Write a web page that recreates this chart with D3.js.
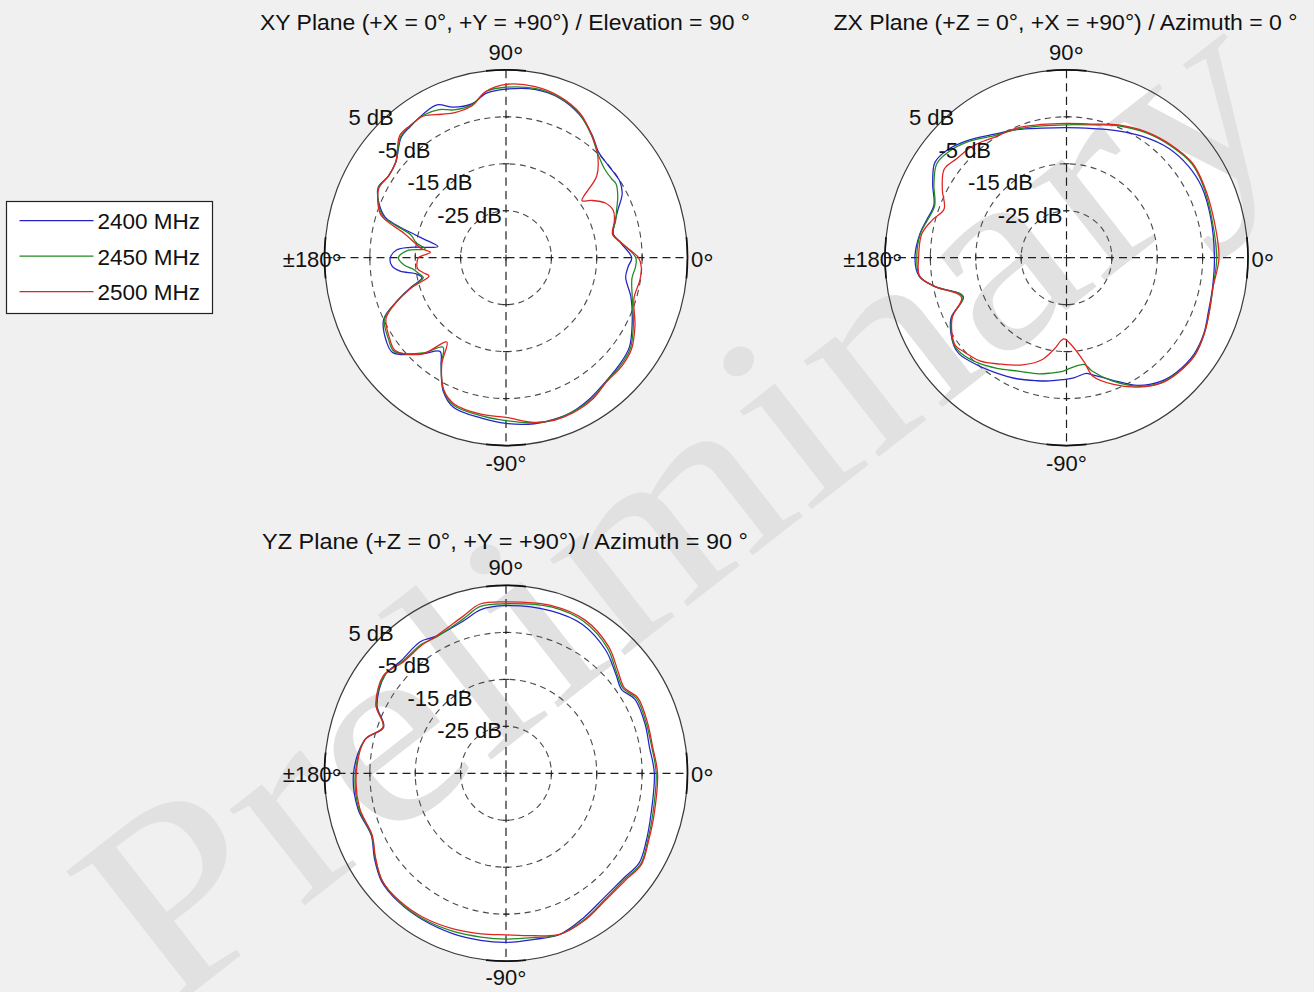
<!DOCTYPE html>
<html><head><meta charset="utf-8">
<script src="https://cdn.jsdelivr.net/npm/d3@7"></script>
<style>
html,body{margin:0;padding:0;background:#f0f0f0;}
svg{display:block;}
</style></head>
<body>
<svg id="chart" width="1314" height="992"></svg>
<script>
// ---------------- data ----------------
const seriesNames = ["2400 MHz", "2450 MHz", "2500 MHz"];
const seriesColors = ["#2323c8", "#1f8a1f", "#e02222"];
const ringValues = [-25, -15, -5, 5];
const ringLabels = ["-25 dB", "-15 dB", "-5 dB", "5 dB"];
const titles = [
  "XY Plane (+X = 0°, +Y = +90°) / Elevation = 90 °",
  "ZX Plane (+Z = 0°, +X = +90°) / Azimuth = 0 °",
  "YZ Plane (+Z = 0°, +Y = +90°) / Azimuth = 90 °"
];
const angleLabelTop = "90", angleLabelBottom = "-90", angleLabelRight = "0", angleLabelLeft = "±180";

const xyAngles = [0, 7, 12, 18, 23, 28, 33, 36, 41, 48, 54, 62, 71, 80, 90, 97, 103, 110, 115, 121, 127, 132, 140, 146, 152, 157, 162, 167, 171, 174, 176, 180, 184, 187, 190, 193, 197, 201, 206, 214, 219, 228, 234, 238, 244, 250, 261, 270, 280, 287, 294, 302, 310, 318, 325, 333, 343, 351, 356];
const xy2400 = [-7.3, -9.5, -10.8, -9.7, -8.1, -6.0, -5.1, -5.1, -5.1, -4.6, -2.7, -0.5, 1.0, 1.4, 0.9, 0.3, -1.4, -0.9, 0.9, 0.6, 0.0, -0.5, -3.3, -3.8, -3.1, -4.5, -7.0, -15.5, -19.8, -13.8, -10.9, -9.5, -9.8, -11.5, -15.0, -16.0, -12.9, -9.3, -5.0, -3.2, -2.9, -7.5, -10.3, -8.0, -3.4, -1.1, -0.4, 0.3, 0.9, 1.0, 0.9, 0.2, -0.7, -1.2, -1.8, -3.8, -6.2, -8.3, -8.0];
const xy2450 = [-6.4, -9.3, -10.9, -9.6, -8.5, -7.1, -6.1, -6.3, -6.2, -4.9, -2.9, -0.4, 1.1, 1.6, 1.3, 0.7, -1.6, -1.5, -0.2, 0.4, 0.1, -0.3, -3.3, -3.8, -3.2, -4.4, -6.5, -13.5, -15.0, -17.1, -13.2, -11.3, -12.5, -14.5, -15.5, -16.3, -13.1, -9.3, -5.2, -3.8, -3.3, -7.7, -11.4, -8.1, -3.6, -1.5, -0.9, -0.3, 0.7, 1.1, 1.0, 0.5, -0.6, -0.9, -1.5, -3.5, -5.9, -6.9, -6.4];
const xy2500 = [-5.8, -9.4, -11.0, -9.9, -9.3, -10.2, -12.6, -14.3, -8.5, -4.9, -2.8, -0.2, 1.3, 2.0, 1.9, 0.7, -1.8, -2.1, -1.3, 0.2, 0.2, 0.0, -3.3, -3.8, -3.3, -4.3, -6.1, -12.0, -14.6, -16.2, -18.3, -15.7, -15.3, -15.4, -16.5, -17.6, -13.3, -9.4, -5.6, -4.1, -3.6, -7.4, -12.8, -8.3, -3.7, -1.8, -1.2, -1.0, 0.6, 1.2, 1.2, 0.7, -0.5, -0.6, -1.2, -3.1, -5.5, -5.1, -5.1];

const zxAngles = [0, 15, 27, 36, 46, 57, 68, 78, 90, 101, 112, 121, 131, 139, 145, 152, 159, 165, 171, 180, 187, 192, 200, 207, 217, 221, 229, 237, 247, 256, 262, 268, 274, 280, 283, 291, 300, 308, 315, 324, 332, 340, 349];
const zx2400 = [-2.4, -2.1, -1.6, -1.8, -2.6, -4.2, -5.8, -6.9, -7.3, -6.9, -5.6, -4.3, -1.9, -0.1, 0.4, -1.6, -3.7, -3.2, -2.3, -1.6, -2.3, -5.4, -10.8, -6.4, -3.9, -3.7, -4.8, -5.9, -7.0, -8.0, -8.5, -9.0, -9.4, -10.0, -9.4, -7.1, -3.6, -1.5, -0.6, -0.2, -0.7, -1.7, -2.2];
const zx2450 = [-1.9, -1.9, -1.2, -0.9, -1.9, -3.2, -4.7, -6.1, -6.7, -6.4, -5.5, -4.6, -2.2, -0.6, -0.1, -1.9, -3.9, -3.4, -2.4, -2.0, -2.4, -5.4, -10.7, -6.6, -4.0, -4.1, -5.3, -6.9, -8.7, -9.5, -10.2, -10.8, -11.7, -11.9, -10.3, -6.9, -3.4, -1.2, -0.4, 0.0, -0.6, -1.5, -2.1];
const zx2500 = [-1.4, -1.5, -1.0, -0.7, -1.7, -3.0, -4.5, -5.9, -6.4, -6.1, -5.3, -4.9, -3.5, -2.9, -2.1, -4.0, -6.1, -4.3, -2.7, -2.4, -2.4, -5.4, -10.4, -6.7, -4.2, -4.7, -5.9, -8.0, -10.2, -12.6, -15.3, -17.7, -16.1, -12.4, -9.1, -6.1, -3.2, -1.1, -0.3, 0.1, -0.6, -1.5, -2.1];

const yzAngles = [0, 10, 19, 29, 35, 41, 50, 62, 74, 90, 99, 106, 118, 124, 134, 142, 153, 160, 167, 180, 193, 204, 212, 220, 229, 239, 251, 261, 270, 280, 289, 299, 309, 319, 327, 335, 345];
const yz2400 = [-2.3, -2.9, -2.6, -2.5, -3.9, -2.9, -0.8, 0.9, 1.0, 0.7, 0.3, -1.2, -2.0, -1.2, -1.7, -1.1, -3.1, -6.3, -3.1, -1.4, -1.5, -2.5, -0.8, 0.8, 1.2, 1.2, 1.1, 1.0, 1.0, 0.9, 1.3, 0.2, -0.8, -0.8, 0.0, -0.9, -1.9];
const yz2450 = [-1.9, -2.4, -2.3, -2.1, -3.5, -2.6, -0.2, 1.6, 1.8, 1.1, 1.0, -0.8, -2.2, -1.8, -2.0, -1.1, -2.9, -6.2, -3.1, -1.8, -1.7, -2.6, -1.0, 0.6, 1.1, 1.0, 0.6, 0.3, 0.3, 0.5, 1.3, 0.6, -0.4, -0.5, 0.4, -0.6, -1.5];
const yz2500 = [-1.6, -2.2, -2.0, -1.8, -3.2, -2.2, 0.2, 2.0, 2.1, 1.5, 1.5, -0.3, -2.0, -2.0, -2.2, -0.9, -2.8, -6.2, -3.1, -2.0, -1.9, -2.7, -1.1, 0.6, 0.9, 0.7, 0.1, -0.4, -0.6, 0.1, 1.3, 0.8, -0.2, -0.2, 0.6, -0.4, -1.2];

const watermarkText = "Preliminary";

// ---------------- drawing ----------------
const W = 1314, H = 992;
const svg = d3.select("#chart");
const FONT = "'Liberation Sans', Arial, Helvetica, sans-serif";
svg.append("rect").attr("width", W).attr("height", H).attr("fill", "#f0f0f0");

const R = 181.5, K = 1.035;
const rScale = d3.scaleLinear().domain([-35, 5]).range([0, R]);

const panels = [
  {cx: 506, cy: 257.7, title: titles[0], titleY: 29.5, titleW: 490, angles: xyAngles, data: [xy2400, xy2450, xy2500], bottomY: 213},
  {cx: 1066.5, cy: 257.7, title: titles[1], titleY: 29.5, titleW: 464, angles: zxAngles, data: [zx2400, zx2450, zx2500], bottomY: 213},
  {cx: 506, cy: 773.3, title: titles[2], titleY: 548.5, titleW: 486, angles: yzAngles, data: [yz2400, yz2450, yz2500], bottomY: 212.2}
];

// layer 1: white plot discs
panels.forEach(p => {
  svg.append("ellipse").attr("cx", p.cx).attr("cy", p.cy)
    .attr("rx", R).attr("ry", R * K).attr("fill", "#ffffff");
});

// layer 2: watermark (underneath grid and curves)
const WF = 265;
svg.append("text")
  .attr("transform", "translate(684,508) rotate(-38) scale(1.15,1)")
  .attr("text-anchor", "middle")
  .attr("y", WF * 0.3)
  .attr("font-family", "'Liberation Serif', 'Times New Roman', serif")
  .attr("font-size", WF)
  .attr("fill", "#e1e1e1")
  .text(watermarkText);

// layer 3: grids, curves, labels
const radial = d3.lineRadial()
  .angle(d => Math.PI / 2 - d[0] * Math.PI / 180)
  .radius(d => rScale(d[1]))
  .curve(d3.curveCatmullRomClosed.alpha(0.5));

const arcGen = d3.arc().innerRadius(R).outerRadius(R);

panels.forEach(p => {
  const g = svg.append("g").attr("transform", `translate(${p.cx},${p.cy})`);
  const pg = g.append("g").attr("transform", `scale(1,${K})`);

  // dashed rings
  ringValues.slice(0, 3).forEach(v => {
    pg.append("circle").attr("r", rScale(v)).attr("fill", "none")
      .attr("stroke", "#4a4a4a").attr("stroke-width", 1.1)
      .attr("stroke-dasharray", "6,4.5");
  });
  // dashed axes
  pg.append("line").attr("x1", -R).attr("x2", R).attr("y1", 0).attr("y2", 0)
    .attr("stroke", "#1e1e1e").attr("stroke-width", 1.2).attr("stroke-dasharray", "8,5");
  pg.append("line").attr("x1", 0).attr("x2", 0).attr("y1", -R).attr("y2", R)
    .attr("stroke", "#1e1e1e").attr("stroke-width", 1.2).attr("stroke-dasharray", "8,5");
  // small ticks at ring crossings
  ringValues.slice(0, 3).forEach(v => {
    const rr = rScale(v);
    [-1, 1].forEach(s => {
      pg.append("line").attr("x1", s * rr).attr("x2", s * rr).attr("y1", -3).attr("y2", 3)
        .attr("stroke", "#222").attr("stroke-width", 1);
      pg.append("line").attr("y1", s * rr).attr("y2", s * rr).attr("x1", -3).attr("x2", 3)
        .attr("stroke", "#222").attr("stroke-width", 1);
    });
  });
  pg.append("line").attr("x1", -3).attr("x2", 3).attr("y1", 0).attr("y2", 0).attr("stroke", "#222");
  pg.append("line").attr("y1", -3).attr("y2", 3).attr("x1", 0).attr("x2", 0).attr("stroke", "#222");

  // outer circle
  pg.append("circle").attr("r", R).attr("fill", "none")
    .attr("stroke", "#3a3a3a").attr("stroke-width", 1.2);
  // darker short arcs where the axes meet the outer circle
  [0, 90, 180, 270].forEach(a => {
    const c = a * Math.PI / 180;
    pg.append("path")
      .attr("d", arcGen({startAngle: c - 0.11, endAngle: c + 0.11}))
      .attr("fill", "none").attr("stroke", "#111").attr("stroke-width", 1.7);
  });

  // curves
  p.data.forEach((vals, i) => {
    const pts = p.angles.map((a, j) => [a, vals[j]]);
    pg.append("path").attr("d", radial(pts)).attr("fill", "none")
      .attr("stroke", seriesColors[i]).attr("stroke-width", 1.25)
      .attr("stroke-linejoin", "round");
  });

  // ring labels
  ringValues.forEach((v, i) => {
    const rr = rScale(v);
    g.append("text").attr("x", -39.3 - 0.652 * rr).attr("y", -2.3 - 0.718 * rr)
      .attr("font-family", FONT).attr("font-size", 22).attr("fill", "#111")
      .text(ringLabels[i]);
  });

  // angle labels
  function angleLabel(txt, x, y, anchor, degSize, degDy) {
    const t = g.append("text").attr("x", x).attr("y", y).attr("text-anchor", anchor)
      .attr("font-family", FONT).attr("font-size", 22).attr("fill", "#111");
    t.append("tspan").text(txt);
    t.append("tspan").attr("font-size", degSize).attr("dy", degDy).text("°");
  }
  angleLabel(angleLabelTop, 0, -198, "middle", 26, 5);
  angleLabel(angleLabelBottom, 0, p.bottomY, "middle", 23, 1.2);
  angleLabel(angleLabelRight, 185, 9, "start", 26, 5);
  angleLabel(angleLabelLeft, -164, 9, "end", 26, 5);

  // title
  svg.append("text").attr("x", p.cx - 1).attr("y", p.titleY).attr("text-anchor", "middle")
    .attr("font-family", FONT).attr("font-size", 22).attr("fill", "#111")
    .attr("textLength", p.titleW).attr("lengthAdjust", "spacingAndGlyphs")
    .text(p.title);
});

// legend
const lg = svg.append("g");
lg.append("rect").attr("x", 6.5).attr("y", 201.5).attr("width", 206).attr("height", 112)
  .attr("fill", "#ffffff").attr("stroke", "#222").attr("stroke-width", 1.2);
seriesNames.forEach((name, i) => {
  const y = 220.7 + i * 35.5;
  lg.append("line").attr("x1", 19.5).attr("x2", 93.5).attr("y1", y).attr("y2", y)
    .attr("stroke", seriesColors[i]).attr("stroke-width", 1.3);
  lg.append("text").attr("x", 97.5).attr("y", y + 8.6)
    .attr("font-family", FONT).attr("font-size", 22.5).attr("fill", "#111").text(name);
});
</script>
</body></html>
